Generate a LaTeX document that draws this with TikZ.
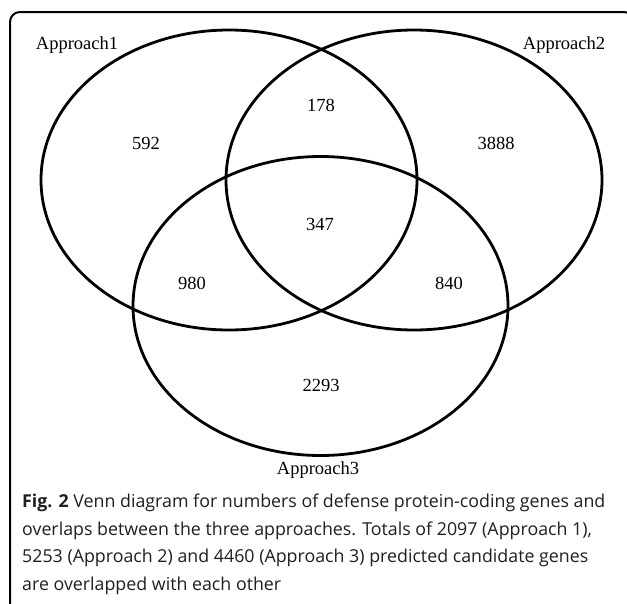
\documentclass[tikz,border=0pt]{standalone}
\usepackage{fontspec}
\setmainfont{Liberation Serif}
\newfontfamily\capfont{Open Sans}
\usepackage{tikz}
\tikzset{every picture/.append style={font=\fontsize{18.5}{22}\selectfont}}
\tikzset{
  setline/.style={line width=2.8pt},
  count/.style={inner sep=0pt},
  setname/.style={inner sep=0pt},
}

\begin{document}
\begin{tikzpicture}[x=1pt,y=-1pt]
    \useasboundingbox (0,0) rectangle (627,603);
    \clip (0,0) rectangle (627,603);
    % frame, cut at the right and bottom
    \draw[line width=2pt,rounded corners=10pt] (10,615) -- (10,12) -- (634,12) -- (634,615);
    % the three sets
    \draw[setline] (229,180) ellipse [x radius=188,y radius=150];
    \draw[setline] (414,180) ellipse [x radius=188,y radius=150];
    \draw[setline] (320.5,306) ellipse [x radius=187.5,y radius=149.5];
    \node[setname] (nameA) at (77,45) {Approach1};
    \node[setname] (nameB) at (564,45) {Approach2};
    \node[setname] (nameC) at (318,470) {Approach3};
    % counts per region
    \node[count] (onlyA) at (146,143) {592};
    \node[count] (onlyB) at (496,143) {3888};
    \node[count] (onlyC) at (321,385) {2293};
    \node[count] (AB) at (321,105) {178};
    \node[count] (AC) at (192,283) {980};
    \node[count] (BC) at (449,283) {840};
    \node[count] (ABC) at (320,224) {347};
    % caption
    \node[anchor=north west,align=left,inner sep=0pt,
          font=\capfont\fontsize{17.8}{27.5}\selectfont,text=black!88] (caption) at (22,494)
      {\textbf{Fig. 2} Venn diagram for numbers of defense protein-coding genes and\\
       overlaps between the three approaches. Totals of 2097 (Approach 1),\\
       5253 (Approach 2) and 4460 (Approach 3) predicted candidate genes\\
       are overlapped with each other};
\end{tikzpicture}
\end{document}
